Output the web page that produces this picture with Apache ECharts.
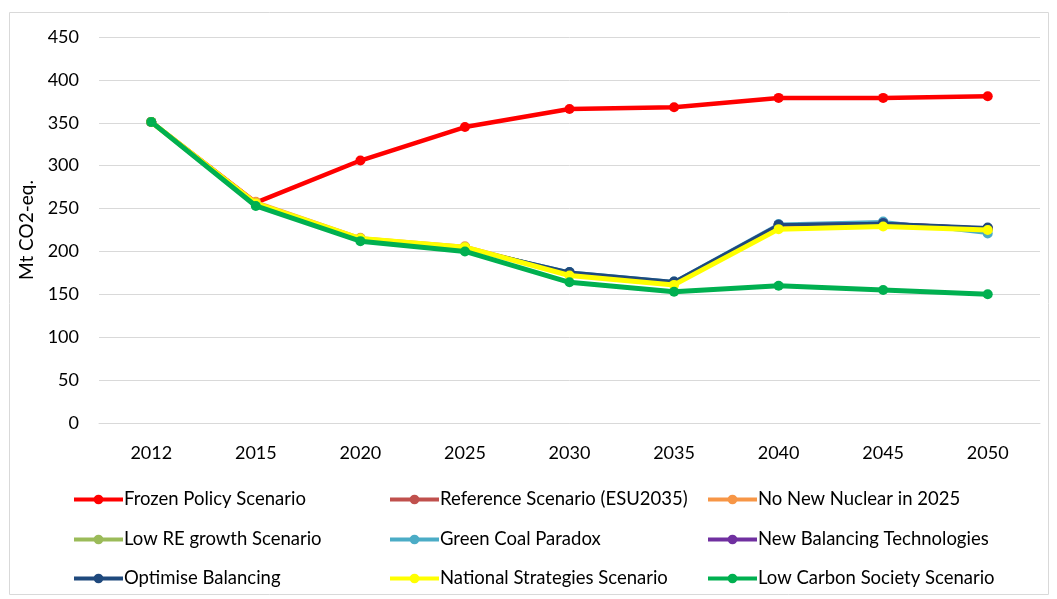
<!DOCTYPE html>
<html>
<head>
<meta charset="utf-8">
<script src="https://cdn.jsdelivr.net/npm/echarts@6/dist/echarts.min.js"></script>
<style>
  html, body { margin: 0; padding: 0; background: #fff; }
  #chart { width: 1057px; height: 599px; }
</style>
</head>
<body>
<div id="chart"></div>
<script>
// years on the x axis
const years = ['2012', '2015', '2020', '2025', '2030', '2035', '2040', '2045', '2050'];

// Mt CO2-eq. per scenario
const frozenPolicy   = [351, 257, 306, 345, 366, 368, 379, 379, 381];
const referenceEsu   = [351, 257, 215, 205, 175, 164, 231, 233, 227];
const noNewNuclear   = [351, 258, 216, 206, 174, 163, 230, 232, 226];
const lowReGrowth    = [351, 256, 215, 205, 175, 164, 231, 233, 226];
const greenCoal      = [351, 255, 214, 204, 176, 165, 232, 235, 221];
const newBalancing   = [351, 255, 214, 204, 175, 164, 231, 233, 227];
const optimiseBal    = [351, 255, 214, 204, 176, 165, 231, 233, 228];
const nationalStrat  = [351, 256, 215, 205, 172, 161, 226, 229, 225];
const lowCarbon      = [351, 253, 212, 200, 164, 153, 160, 155, 150];

const names = [
  'Frozen Policy Scenario', 'Reference Scenario (ESU2035)', 'No New Nuclear in 2025',
  'Low RE growth Scenario', 'Green Coal Paradox', 'New Balancing Technologies',
  'Optimise Balancing', 'National Strategies Scenario', 'Low Carbon Society Scenario'
];
const colors = ['#FF0000', '#C0504D', '#F79646', '#9BBB59', '#4BACC6', '#7030A0', '#1F497D', '#FFFF00', '#00B050'];
const widths = [4.5, 3, 3, 3, 3, 3, 3, 5, 5];
const values = [frozenPolicy, referenceEsu, noNewNuclear, lowReGrowth, greenCoal, newBalancing, optimiseBal, nationalStrat, lowCarbon];

const font = 'Lato, "Open Sans", sans-serif';

const series = names.map(function (n, i) {
  return {
    name: n,
    type: 'line',
    data: values[i],
    symbol: 'circle',
    symbolSize: 10,
    itemStyle: { color: colors[i] },
    lineStyle: { width: widths[i], color: colors[i] },
    z: 2 + i,
    animation: false
  };
});

// legend: one small legend per item, laid out 3 x 3 (row-major order)
const colLeft = [72, 388, 706];
const rowTop = [490, 530, 569];
const legend = names.map(function (n, i) {
  return {
    left: colLeft[i % 3],
    top: rowTop[Math.floor(i / 3)],
    padding: 0,
    itemWidth: 49,
    itemHeight: 12,
    itemGap: 0,
    data: [n],
    lineStyle: { width: 4 },
    textStyle: { fontFamily: font, fontSize: 18.5, color: '#000', padding: [0, 0, 0, -4] }
  };
});

const chart = echarts.init(document.getElementById('chart'));
chart.setOption({
  animation: false,
  color: colors,
  graphic: [{
    type: 'rect',
    shape: { x: 9.5, y: 12.5, width: 1039, height: 582 },
    style: { fill: 'none', stroke: '#d9d9d9', lineWidth: 1 },
    silent: true
  }],
  legend: legend,
  grid: { left: 99, right: 17, top: 37, bottom: 176, containLabel: false },
  xAxis: {
    type: 'category',
    data: years,
    boundaryGap: true,
    axisLine: { show: true, lineStyle: { color: '#d9d9d9', width: 1 } },
    axisTick: { show: false },
    axisLabel: { fontFamily: font, fontSize: 18, color: '#000', margin: 21 }
  },
  yAxis: {
    type: 'value',
    min: 0,
    max: 450,
    interval: 50,
    name: 'Mt CO2-eq.',
    nameLocation: 'middle',
    nameGap: 58,
    nameRotate: 90,
    nameTextStyle: { fontFamily: font, fontSize: 19, color: '#000' },
    axisLine: { show: false },
    axisTick: { show: false },
    axisLabel: { fontFamily: font, fontSize: 18, color: '#000', margin: 20 },
    splitLine: { lineStyle: { color: '#d9d9d9', width: 1 } }
  },
  series: series
});
</script>
</body>
</html>
